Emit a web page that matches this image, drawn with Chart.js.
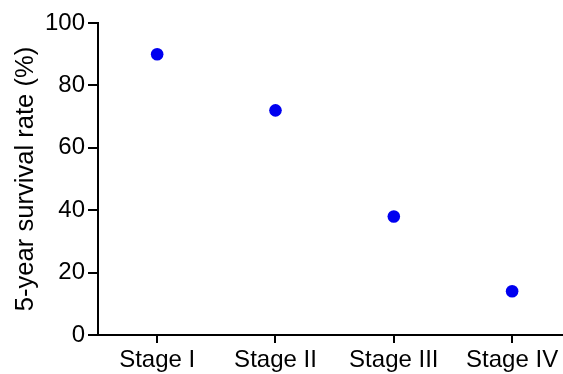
<!DOCTYPE html>
<html>
<head>
<meta charset="utf-8">
<script src="https://cdn.jsdelivr.net/npm/chart.js@4"></script>
<style>
  html, body { margin: 0; padding: 0; background: #fff; }
  #wrap { width: 563px; height: 374px; }
</style>
</head>
<body>
<div id="wrap"><canvas id="c" width="563" height="374"></canvas></div>
<script>
// Five-year survival by cancer stage
const stages = ['Stage I', 'Stage II', 'Stage III', 'Stage IV'];
const survival = [90, 72, 38, 14];
const yTicks = [0, 20, 40, 60, 80, 100];

const points = stages.map((s, i) => ({ x: i, y: survival[i] }));
const FONT = "'Liberation Sans', Arial, sans-serif";

new Chart(document.getElementById('c'), {
  type: 'scatter',
  data: {
    datasets: [{
      data: points,
      backgroundColor: 'rgb(0,0,240)',
      borderColor: 'rgb(0,0,240)',
      pointRadius: 6.3,
      pointHoverRadius: 6.3,
      borderWidth: 0
    }]
  },
  options: {
    responsive: false,
    animation: false,
    events: [],
    layout: { padding: { top: 23, right: 0, bottom: 0, left: 0 } },
    plugins: { legend: { display: false }, tooltip: { enabled: false } },
    scales: {
      x: {
        type: 'linear',
        min: -0.5,
        max: 3.43,
        afterBuildTicks: (scale) => {
          scale.ticks = stages.map((s, i) => ({ value: i }));
        },
        afterFit: (scale) => {
          scale.height = 39;
        },
        grid: { drawOnChartArea: false, drawTicks: true, tickLength: 8, color: '#000', lineWidth: 2 },
        border: { display: true, color: '#000', width: 2 },
        ticks: {
          padding: 3,
          color: '#000',
          maxRotation: 0,
          autoSkip: false,
          font: { family: FONT, size: 24 },
          callback: (v) => stages[v] ?? ''
        }
      },
      y: {
        min: 0,
        max: 100,
        afterBuildTicks: (scale) => {
          scale.ticks = yTicks.map(v => ({ value: v }));
        },
        afterFit: (scale) => { scale.width = 98; },
        grid: { drawOnChartArea: false, drawTicks: true, tickLength: 10, color: '#000', lineWidth: 2 },
        border: { display: true, color: '#000', width: 2 },
        ticks: {
          padding: 3,
          color: '#000',
          font: { family: FONT, size: 24 }
        },
        title: {
          display: true,
          text: '5-year survival rate (%)',
          color: '#000',
          padding: { top: 11, bottom: 0 },
          font: { family: FONT, size: 25.6 }
        }
      }
    }
  },
  plugins: [{
    // keep the plot area flush with the right edge of the canvas
    id: 'flushRight',
    afterLayout(chart) {
      const ca = chart.chartArea;
      const x = chart.scales.x;
      const target = chart.width;
      if (ca.right < target) {
        ca.right = target;
        ca.width = ca.right - ca.left;
        x.right = target;
        x.width = x.right - x.left;
        x.configure();
        x.afterUpdate();
      }
    }
  }]
});
</script>
</body>
</html>
